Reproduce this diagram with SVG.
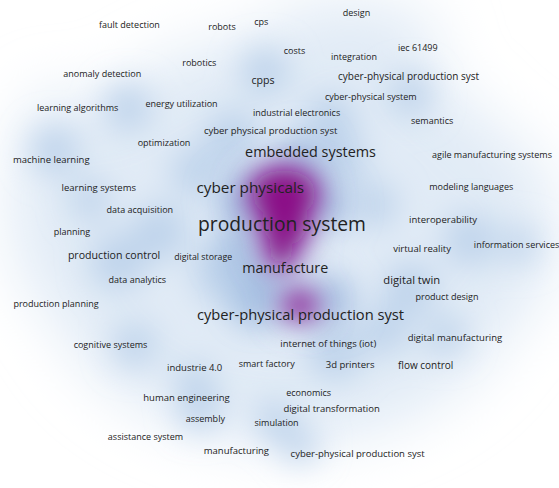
<svg xmlns="http://www.w3.org/2000/svg" width="559" height="488" viewBox="0 0 559 488">
<style>
text{font-family:"Open Sans","Liberation Sans",sans-serif;fill:#222222;text-anchor:middle}
.s9{font-size:9px}.s95{font-size:9.5px}.s10{font-size:10px}.s105{font-size:10.6px}.s11{font-size:11.2px}
.s14{font-size:14.4px}.s145{font-size:14.3px}.s147{font-size:14.7px}.s15{font-size:15.3px}.s19{font-size:19.3px}
</style>
<defs>
<filter id="b30" filterUnits="userSpaceOnUse" x="-150" y="-150" width="860" height="790"><feGaussianBlur stdDeviation="30"/></filter>
<filter id="b16" filterUnits="userSpaceOnUse" x="-150" y="-150" width="860" height="790"><feGaussianBlur stdDeviation="16"/></filter>
<filter id="b12" filterUnits="userSpaceOnUse" x="-150" y="-150" width="860" height="790"><feGaussianBlur stdDeviation="12"/></filter>
</defs>
<rect width="559" height="488" fill="#ffffff"/>
<g id="density">
<g filter="url(#b30)" fill="#e1ebf6">
<ellipse cx="285" cy="240" rx="250" ry="205"/>
<ellipse cx="60" cy="200" rx="50" ry="110"/>
<ellipse cx="510" cy="230" rx="45" ry="90"/>
<ellipse cx="350" cy="40" rx="90" ry="40"/>
</g>
<g filter="url(#b16)" fill="#bed3eb">
<circle cx="265" cy="72" r="24"/>
<circle cx="232" cy="138" r="28"/>
<circle cx="195" cy="172" r="24"/>
<circle cx="375" cy="205" r="22"/>
<circle cx="160" cy="232" r="28"/>
<circle cx="118" cy="262" r="28"/>
<circle cx="228" cy="272" r="34"/>
<circle cx="255" cy="305" r="26"/>
<circle cx="410" cy="288" r="26"/>
<circle cx="385" cy="330" r="24"/>
<circle cx="335" cy="352" r="28"/>
<circle cx="55" cy="150" r="24"/>
<circle cx="128" cy="108" r="24"/>
<circle cx="470" cy="240" r="26"/>
<circle cx="520" cy="245" r="18"/>
<circle cx="200" cy="408" r="22"/>
<circle cx="275" cy="420" r="20"/>
<circle cx="445" cy="335" r="20"/>
<circle cx="135" cy="345" r="22"/>
<circle cx="330" cy="120" r="26"/>
<circle cx="410" cy="95" r="22"/>
<circle cx="340" cy="160" r="26"/>
<circle cx="195" cy="380" r="18"/>
<circle cx="300" cy="445" r="18"/>
<circle cx="90" cy="200" r="20"/>
</g>
<g filter="url(#b16)" fill="#a3bee1">
<circle cx="245" cy="200" r="28"/>
<circle cx="325" cy="205" r="24"/>
<circle cx="262" cy="292" r="26"/>
<circle cx="330" cy="300" r="24"/>
<circle cx="300" cy="160" r="24"/>
<circle cx="240" cy="250" r="20"/>
</g>
<g filter="url(#b16)" fill="#9782c4">
<ellipse cx="283" cy="198" rx="40" ry="34"/>
<ellipse cx="283" cy="240" rx="24" ry="32"/>
<ellipse cx="300" cy="306" rx="22" ry="17"/>
</g>
<g filter="url(#b12)" fill="#8b0b86">
<ellipse cx="284" cy="194" rx="32" ry="24"/>
<ellipse cx="285" cy="222" rx="22" ry="24"/>
<ellipse cx="281" cy="250" rx="12" ry="16"/>
<ellipse cx="300" cy="305" rx="14" ry="10"/>
</g>
</g>
<g id="labels">
<g id="n-design"><text class="s9" x="356.5" y="15.5">design</text></g>
<g id="n-fault-detection"><text class="s9" x="129.4" y="28">fault detection</text></g>
<g id="n-robots"><text class="s9" x="222" y="30">robots</text></g>
<g id="n-cps"><text class="s9" x="261.3" y="25">cps</text></g>
<g id="n-costs"><text class="s9" x="294.5" y="54">costs</text></g>
<g id="n-integration"><text class="s9" x="354" y="60.3">integration</text></g>
<g id="n-iec-61499"><text class="s9" x="417.8" y="50.7">iec 61499</text></g>
<g id="n-robotics"><text class="s9" x="199.3" y="65.7">robotics</text></g>
<g id="n-anomaly-detection"><text class="s9" x="102.3" y="77">anomaly detection</text></g>
<g id="n-cpps"><text class="s105" x="263.1" y="83.5">cpps</text></g>
<g id="n-cpps-top"><text class="s10" x="408.6" y="79.6">cyber-physical production syst</text></g>
<g id="n-cyber-physical-system"><text class="s9" x="370.8" y="100">cyber-physical system</text></g>
<g id="n-learning-algorithms"><text class="s9" x="77.7" y="110.7">learning algorithms</text></g>
<g id="n-energy-utilization"><text class="s9" x="181.5" y="106.7">energy utilization</text></g>
<g id="n-industrial-electronics"><text class="s9" x="296.6" y="116.3">industrial electronics</text></g>
<g id="n-semantics"><text class="s9" x="432.1" y="124.3">semantics</text></g>
<g id="n-cyber-physical-production-syst-2"><text class="s95" x="270.6" y="134.1">cyber physical production syst</text></g>
<g id="n-optimization"><text class="s9" x="164" y="146.3">optimization</text></g>
<g id="n-embedded-systems"><text class="s14" x="310.5" y="156.8">embedded systems</text></g>
<g id="n-agile-manufacturing-systems"><text class="s9" x="492" y="158">agile manufacturing systems</text></g>
<g id="n-machine-learning"><text class="s95" x="51.3" y="163">machine learning</text></g>
<g id="n-learning-systems"><text class="s95" x="98.8" y="191">learning systems</text></g>
<g id="n-cyber-physicals"><text class="s15" x="250.3" y="193">cyber physicals</text></g>
<g id="n-modeling-languages"><text class="s9" x="471.3" y="189.7">modeling languages</text></g>
<g id="n-data-acquisition"><text class="s9" x="139.8" y="212.7">data acquisition</text></g>
<g id="n-production-system"><text class="s19" x="282" y="231.3">production system</text></g>
<g id="n-interoperability"><text class="s95" x="443.1" y="223">interoperability</text></g>
<g id="n-planning"><text class="s9" x="72" y="235.3">planning</text></g>
<g id="n-virtual-reality"><text class="s95" x="422.1" y="251.7">virtual reality</text></g>
<g id="n-information-services"><text class="s9" x="516.6" y="248">information services</text></g>
<g id="n-production-control"><text class="s105" x="114.1" y="258.5">production control</text></g>
<g id="n-digital-storage"><text class="s9" x="203.2" y="259.9" style="font-size:8.8px">digital storage</text></g>
<g id="n-manufacture"><text class="s145" x="285.2" y="273.4">manufacture</text></g>
<g id="n-data-analytics"><text class="s9" x="137.3" y="282.7">data analytics</text></g>
<g id="n-digital-twin"><text class="s11" x="411.8" y="284">digital twin</text></g>
<g id="n-product-design"><text class="s9" x="447" y="299.7">product design</text></g>
<g id="n-production-planning"><text class="s9" x="56" y="307.3">production planning</text></g>
<g id="n-cyber-physical-production-syst"><text class="s147" x="300.5" y="320.2">cyber-physical production syst</text></g>
<g id="n-cognitive-systems"><text class="s9" x="110.5" y="347.7">cognitive systems</text></g>
<g id="n-internet-of-things"><text class="s95" x="328.3" y="346.8">internet of things (iot)</text></g>
<g id="n-digital-manufacturing"><text class="s95" x="454.9" y="341.4">digital manufacturing</text></g>
<g id="n-industrie-4-0"><text class="s95" x="194.7" y="370.8">industrie 4.0</text></g>
<g id="n-smart-factory"><text class="s9" x="266.7" y="367">smart factory</text></g>
<g id="n-3d-printers"><text class="s95" x="350.1" y="368">3d printers</text></g>
<g id="n-flow-control"><text class="s10" x="425.7" y="369.3">flow control</text></g>
<g id="n-economics"><text class="s9" x="308.7" y="396">economics</text></g>
<g id="n-human-engineering"><text class="s95" x="186.5" y="400.8">human engineering</text></g>
<g id="n-digital-transformation"><text class="s95" x="331.6" y="412">digital transformation</text></g>
<g id="n-assembly"><text class="s9" x="205.3" y="422.3">assembly</text></g>
<g id="n-simulation"><text class="s9" x="276.6" y="425.7">simulation</text></g>
<g id="n-assistance-system"><text class="s9" x="145.5" y="440">assistance system</text></g>
<g id="n-manufacturing"><text class="s95" x="236.4" y="453.8">manufacturing</text></g>
<g id="n-cpps-bottom"><text class="s95" x="357.6" y="457">cyber-physical production syst</text></g>
</g>
</svg>
